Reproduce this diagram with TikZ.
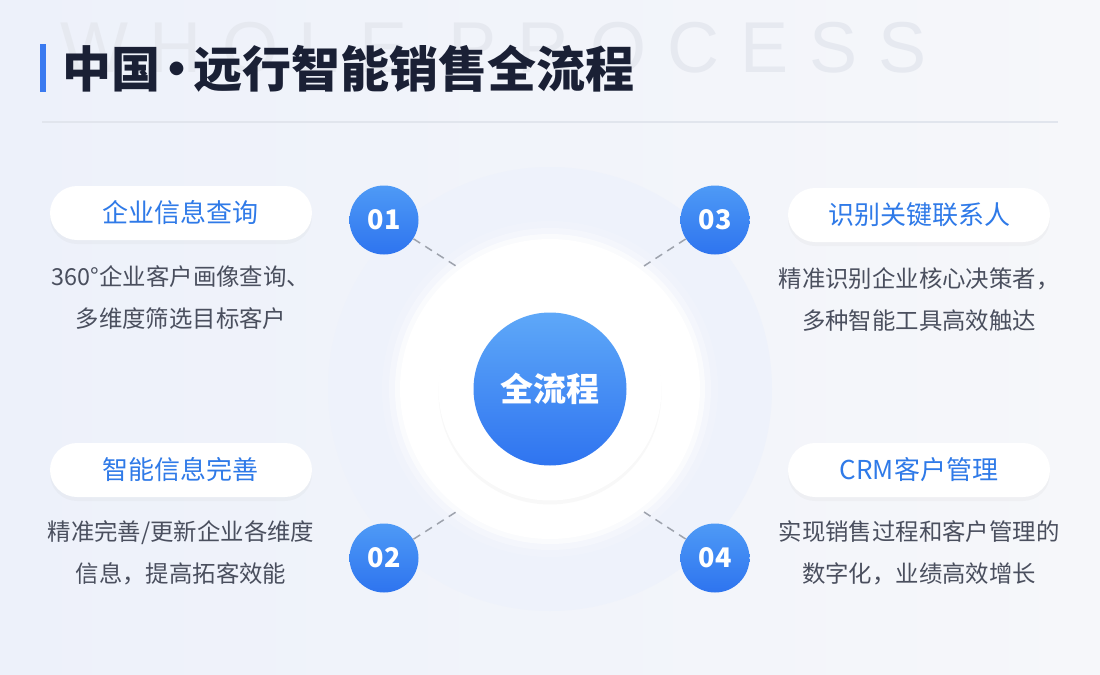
\documentclass[tikz,border=0pt]{standalone}
\usepackage{fontspec}
\setmainfont{Noto Sans CJK SC}
\newfontfamily\wmfont{Liberation Sans}[LetterSpace=29]
\usetikzlibrary{shadows}
\definecolor{bgleft}{HTML}{EDF1FA}
\definecolor{bgright}{HTML}{F6F7FA}
\definecolor{wmgray}{HTML}{E6E9F0}
\definecolor{titleink}{HTML}{1A2035}
\definecolor{barblue}{HTML}{3A7AF0}
\definecolor{rulegray}{HTML}{E1E5ED}
\definecolor{ringblue}{HTML}{EEF2FB}
\definecolor{coretop}{HTML}{5EA8F8}
\definecolor{corebot}{HTML}{2F74F0}
\definecolor{numtop}{HTML}{4E9AF6}
\definecolor{numbot}{HTML}{2E74EF}
\definecolor{pilltext}{HTML}{2F7AE8}
\definecolor{desctext}{HTML}{4A4F5E}
\definecolor{dashgray}{HTML}{9EA3AD}

\begin{document}
\begin{tikzpicture}[x=0.5pt, y=-0.5pt,
  core/.style={circle, minimum size=76.5pt, inner sep=0pt, top color=coretop, bottom color=corebot, text=white, font=\fontsize{16.5}{16.5}\selectfont\bfseries},
  num/.style={circle, minimum size=34.5pt, inner sep=0pt, top color=numtop, bottom color=numbot, text=white, font=\fontsize{13.5}{13.5}\selectfont\bfseries},
  pill/.style={rectangle, rounded corners=13.5pt, minimum width=131pt, minimum height=27pt, fill=white, text=pilltext, font=\fontsize{13}{13}\selectfont, drop shadow={opacity=0.05, shadow xshift=0pt, shadow yshift=-2pt}},
  desc/.style={align=center, text=desctext, font=\fontsize{11.7}{21}\selectfont},
  link/.style={draw=dashgray, line width=0.75pt, dash pattern=on 4pt off 3pt}]

\useasboundingbox (0,0) rectangle (1100,675);
\shade[left color=bgleft, right color=bgright] (0,0) rectangle (1100,675);

\node[anchor=base west, text=wmgray, font=\wmfont\fontsize{36}{36}\selectfont, inner sep=0pt] (wm) at (60,72) {WHOLE PROCESS};
\fill[barblue] (40,44) rectangle (46,92);
\node[anchor=west, text=titleink, font=\fontsize{24.5}{24.5}\selectfont\bfseries, inner sep=0pt] (title) at (62,69) {中国\hspace{-4pt}·\hspace{-4pt}远行智能销售全流程};
\draw[rulegray, line width=1pt] (42,122) -- (1058,122);

\coordinate (O) at (550,389);
\fill[ringblue] (O) circle[radius=222];
\foreach \r/\o in {168/0.12, 161/0.3, 155/0.6, 150/1} \fill[white, opacity=\o] (O) circle[radius=\r];
\fill[white, drop shadow={opacity=0.05, shadow xshift=0pt, shadow yshift=-2pt}] (O) circle[radius=111.5];
\node[core] (core) at (O) {全流程};

\coordinate (E1) at (456,266); \coordinate (E2) at (456,512); \coordinate (E3) at (644,266); \coordinate (E4) at (644,512);
\node[num] (N1) at (384,220) {01};
\node[num] (N2) at (384,558) {02};
\node[num] (N3) at (715,220) {03};
\node[num] (N4) at (715,558) {04};
\foreach \i in {1,...,4} \draw[link] (N\i) -- (E\i);

\node[pill] (P1) at (181,213) {企业信息查询};
\node[pill] (P2) at (181,470) {智能信息完善};
\node[pill] (P3) at (919,215) {识别关键联系人};
\node[pill] (P4) at (919,470) {CRM客户管理};

\node[desc] (D1) at (181,298) {360°企业客户画像查询、\\多维度筛选目标客户};
\node[desc] (D2) at (181,553) {精准完善/更新企业各维度\\信息，提高拓客效能};
\node[desc] (D3) at (919,300) {精准识别企业核心决策者，\\多种智能工具高效触达};
\node[desc] (D4) at (919,553) {实现销售过程和客户管理的\\数字化，业绩高效增长};
\end{tikzpicture}
\end{document}
